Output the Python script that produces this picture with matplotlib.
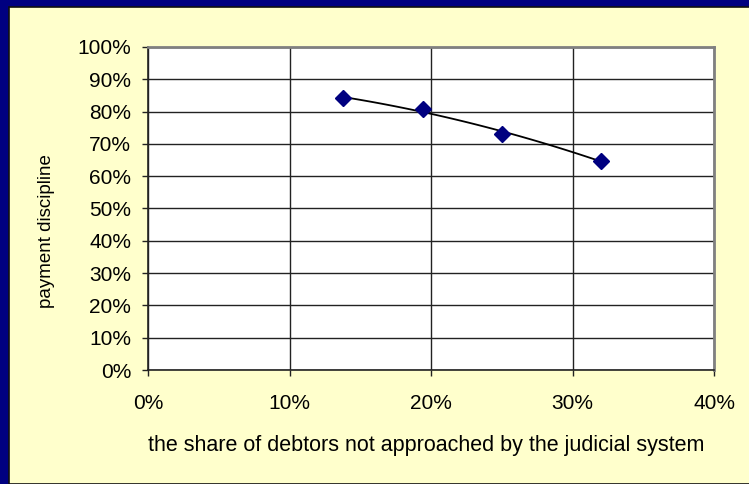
"""
Payment discipline vs. share of debtors not approached by the judicial system.
Scatter of four observations with a second-order polynomial trendline.
"""
import numpy as np
import matplotlib.pyplot as plt
from matplotlib.patches import Rectangle
from matplotlib.ticker import FuncFormatter, MultipleLocator

plt.rcParams['font.family'] = ['Liberation Sans', 'DejaVu Sans']

# share of debtors not approached (fraction) and payment discipline (fraction)
share_not_approached = [0.138, 0.194, 0.250, 0.320]
payment_discipline = [0.842, 0.808, 0.731, 0.648]

x_label = 'the share of debtors not approached by the judicial system'
y_label = 'payment discipline'

NAVY = '#000080'
PANEL = '#FFFFCC'

fig = plt.figure(figsize=(7.49, 4.84), dpi=100)
fig.patch.set_facecolor(NAVY)

# pale yellow chart panel with a dark edge on the top/left, blue frame behind
fig.add_artist(Rectangle((9 / 749, 0), 1, 1 - 7 / 484, transform=fig.transFigure,
                         facecolor=PANEL, edgecolor='#101010', linewidth=1.2, zorder=0))

ax = fig.add_axes([148 / 749, 1 - 370 / 484, (714 - 148) / 749, (370 - 47) / 484])
ax.set_facecolor('white')

ax.set_xlim(0, 0.4)
ax.set_ylim(0, 1.0)
ax.xaxis.set_major_locator(MultipleLocator(0.1))
ax.yaxis.set_major_locator(MultipleLocator(0.1))
pct = FuncFormatter(lambda v, _: f'{v * 100:.0f}%')
ax.xaxis.set_major_formatter(pct)
ax.yaxis.set_major_formatter(pct)

ax.grid(True, color='#222222', linewidth=1.0)
ax.set_axisbelow(True)

for side in ('top', 'right'):
    ax.spines[side].set_color('#808080')
    ax.spines[side].set_linewidth(2.0)
for side in ('left', 'bottom'):
    ax.spines[side].set_color('#222222')
    ax.spines[side].set_linewidth(1.2)

ax.tick_params(axis='both', direction='out', length=4, width=1.0, color='#222222',
               labelsize=15, labelcolor='black')
ax.tick_params(axis='x', pad=13)
ax.tick_params(axis='y', pad=8)

# polynomial (order 2) trendline over the data range
coef = np.polyfit(share_not_approached, payment_discipline, 2)
trend_x = np.linspace(min(share_not_approached), max(share_not_approached), 100)
ax.plot(trend_x, np.polyval(coef, trend_x), color='black', linewidth=1.3, zorder=3)

ax.plot(share_not_approached, payment_discipline, linestyle='none', marker='D',
        markersize=8, color=NAVY, markeredgecolor=NAVY, zorder=4, clip_on=False)

ax.set_xlabel(x_label, fontsize=15.5)
ax.set_ylabel(y_label, fontsize=13.5)
ax.xaxis.set_label_coords(0.492, -0.2)
ax.yaxis.set_label_coords(-0.165, 0.43)

fig.savefig('out.png', dpi=100, facecolor=fig.get_facecolor())
